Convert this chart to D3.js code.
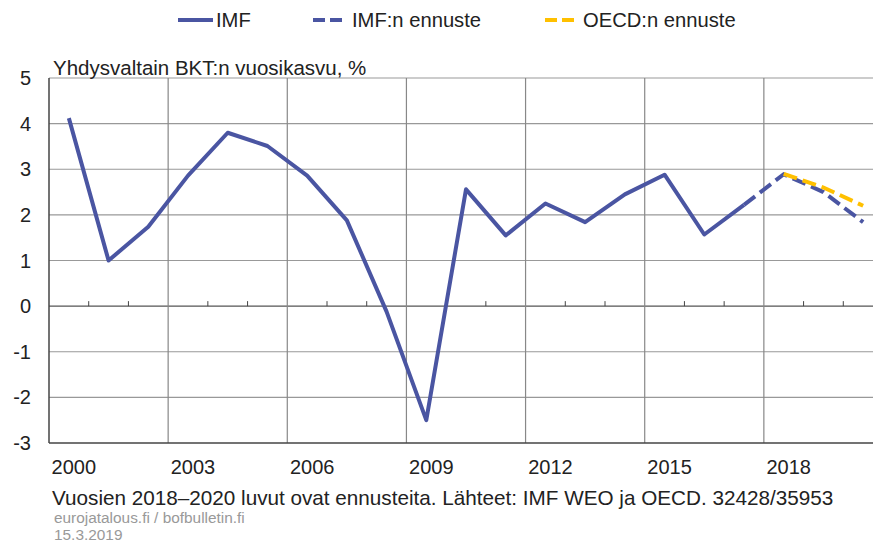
<!DOCTYPE html>
<html>
<head>
<meta charset="utf-8">
<script src="https://cdn.jsdelivr.net/npm/d3@7"></script>
<style>
body { margin: 0; background: #fff; }
svg { font-family: "Liberation Sans", Arial, sans-serif; }
</style>
</head>
<body>
<div id="chart"></div>
<script>
// US GDP growth, IMF actuals + IMF / OECD forecasts

var years = d3.range(2000, 2021);
var imf = [4.12, 1.0, 1.74, 2.86, 3.8, 3.51, 2.86, 1.88, -0.12, -2.5, 2.56, 1.55, 2.25, 1.84, 2.45, 2.88, 1.57, 2.22];
var imfForecastYears = [2017, 2018, 2019, 2020];
var imfForecast = [2.22, 2.89, 2.5, 1.84];
var oecdYears = [2018, 2019, 2020];
var oecdForecast = [2.9, 2.6, 2.2];
var yTicks = [-3, -2, -1, 0, 1, 2, 3, 4, 5];
var xLabels = [2000, 2003, 2006, 2009, 2012, 2015, 2018];

var W = 873, H = 545;
var m = {left: 49, right: 883, top: 78, bottom: 443};

var svg = d3.select("#chart").append("svg")
    .attr("width", W).attr("height", H);

var x = d3.scaleBand().domain(years).range([m.left, m.right]);
var y = d3.scaleLinear().domain([-3, 5]).range([m.bottom, m.top]);
var cx = function(yr) { return x(yr) + x.bandwidth() / 2; };

// horizontal gridlines
svg.append("g").selectAll("line")
    .data(yTicks.filter(function(d) { return d !== -3; }))
    .enter().append("line")
    .attr("x1", m.left).attr("x2", m.right)
    .attr("y1", function(d) { return y(d); }).attr("y2", function(d) { return y(d); })
    .attr("stroke", function(d) { return d === 0 ? "#555" : "#999"; })
    .attr("stroke-width", 1.2);

// vertical gridlines every 3 years
svg.append("g").selectAll("line")
    .data(xLabels.slice(1))
    .enter().append("line")
    .attr("x1", function(d) { return x(d); }).attr("x2", function(d) { return x(d); })
    .attr("y1", m.top).attr("y2", m.bottom)
    .attr("stroke", "#888").attr("stroke-width", 1.2);

// small ticks on the zero line
svg.append("g").selectAll("line")
    .data(years.slice(1).filter(function(d) { return (d - 2000) % 3 !== 0; }))
    .enter().append("line")
    .attr("x1", function(d) { return x(d); }).attr("x2", function(d) { return x(d); })
    .attr("y1", y(0) - 5).attr("y2", y(0))
    .attr("stroke", "#444").attr("stroke-width", 1);

// axis lines
svg.append("line").attr("x1", m.left).attr("x2", m.left).attr("y1", m.top).attr("y2", m.bottom)
    .attr("stroke", "#444").attr("stroke-width", 1.5);
svg.append("line").attr("x1", m.left).attr("x2", m.right).attr("y1", m.bottom).attr("y2", m.bottom)
    .attr("stroke", "#444").attr("stroke-width", 1.5);

// y labels
svg.append("g").selectAll("text")
    .data(yTicks)
    .enter().append("text")
    .attr("x", 31).attr("y", function(d) { return y(d) + 7; })
    .attr("text-anchor", "end")
    .attr("font-size", 20).attr("fill", "#222")
    .text(function(d) { return d; });

// x labels
svg.append("g").selectAll("text")
    .data(xLabels)
    .enter().append("text")
    .attr("x", function(d) { return cx(d) + 5; }).attr("y", 474)
    .attr("text-anchor", "middle")
    .attr("font-size", 20).attr("fill", "#222")
    .text(function(d) { return d; });

var line = d3.line()
    .x(function(d) { return cx(d[0]); })
    .y(function(d) { return y(d[1]); });

svg.append("path")
    .datum(imf.map(function(v, i) { return [years[i], v]; }))
    .attr("d", line).attr("fill", "none")
    .attr("stroke", "#4a55a2").attr("stroke-width", 4).attr("stroke-linejoin", "round");

svg.append("path")
    .datum(imfForecast.map(function(v, i) { return [imfForecastYears[i], v]; }))
    .attr("d", line).attr("fill", "none")
    .attr("stroke", "#4a55a2").attr("stroke-width", 4)
    .attr("stroke-dasharray", "14,6");

svg.append("path")
    .datum(oecdForecast.map(function(v, i) { return [oecdYears[i], v]; }))
    .attr("d", line).attr("fill", "none")
    .attr("stroke", "#ffc000").attr("stroke-width", 4)
    .attr("stroke-dasharray", "14,6");

// legend
var legend = [
    {label: "IMF", color: "#4a55a2", dash: null, x1: 178, x2: 213, tx: 216},
    {label: "IMF:n ennuste", color: "#4a55a2", dash: "12,5", x1: 313, x2: 342, tx: 352},
    {label: "OECD:n ennuste", color: "#ffc000", dash: "12,5", x1: 545, x2: 574, tx: 583}
];
var lg = svg.append("g").selectAll("g").data(legend).enter().append("g");
lg.append("line")
    .attr("x1", function(d) { return d.x1; }).attr("x2", function(d) { return d.x2; })
    .attr("y1", 20).attr("y2", 20)
    .attr("stroke", function(d) { return d.color; }).attr("stroke-width", 4)
    .attr("stroke-dasharray", function(d) { return d.dash; });
lg.append("text")
    .attr("x", function(d) { return d.tx; }).attr("y", 27)
    .attr("font-size", 20.2).attr("fill", "#222")
    .text(function(d) { return d.label; });

// title
svg.append("text").attr("x", 53).attr("y", 75)
    .attr("font-size", 20.5).attr("fill", "#222")
    .text("Yhdysvaltain BKT:n vuosikasvu, %");

// footer
svg.append("text").attr("x", 52).attr("y", 505)
    .attr("font-size", 20.7).attr("fill", "#222")
    .text("Vuosien 2018–2020 luvut ovat ennusteita. Lähteet: IMF WEO ja OECD. 32428/35953");
svg.append("text").attr("x", 54).attr("y", 523)
    .attr("font-size", 15.4).attr("fill", "#999")
    .text("eurojatalous.fi / bofbulletin.fi");
svg.append("text").attr("x", 54).attr("y", 540)
    .attr("font-size", 15.4).attr("fill", "#999")
    .text("15.3.2019");
</script>
</body>
</html>
